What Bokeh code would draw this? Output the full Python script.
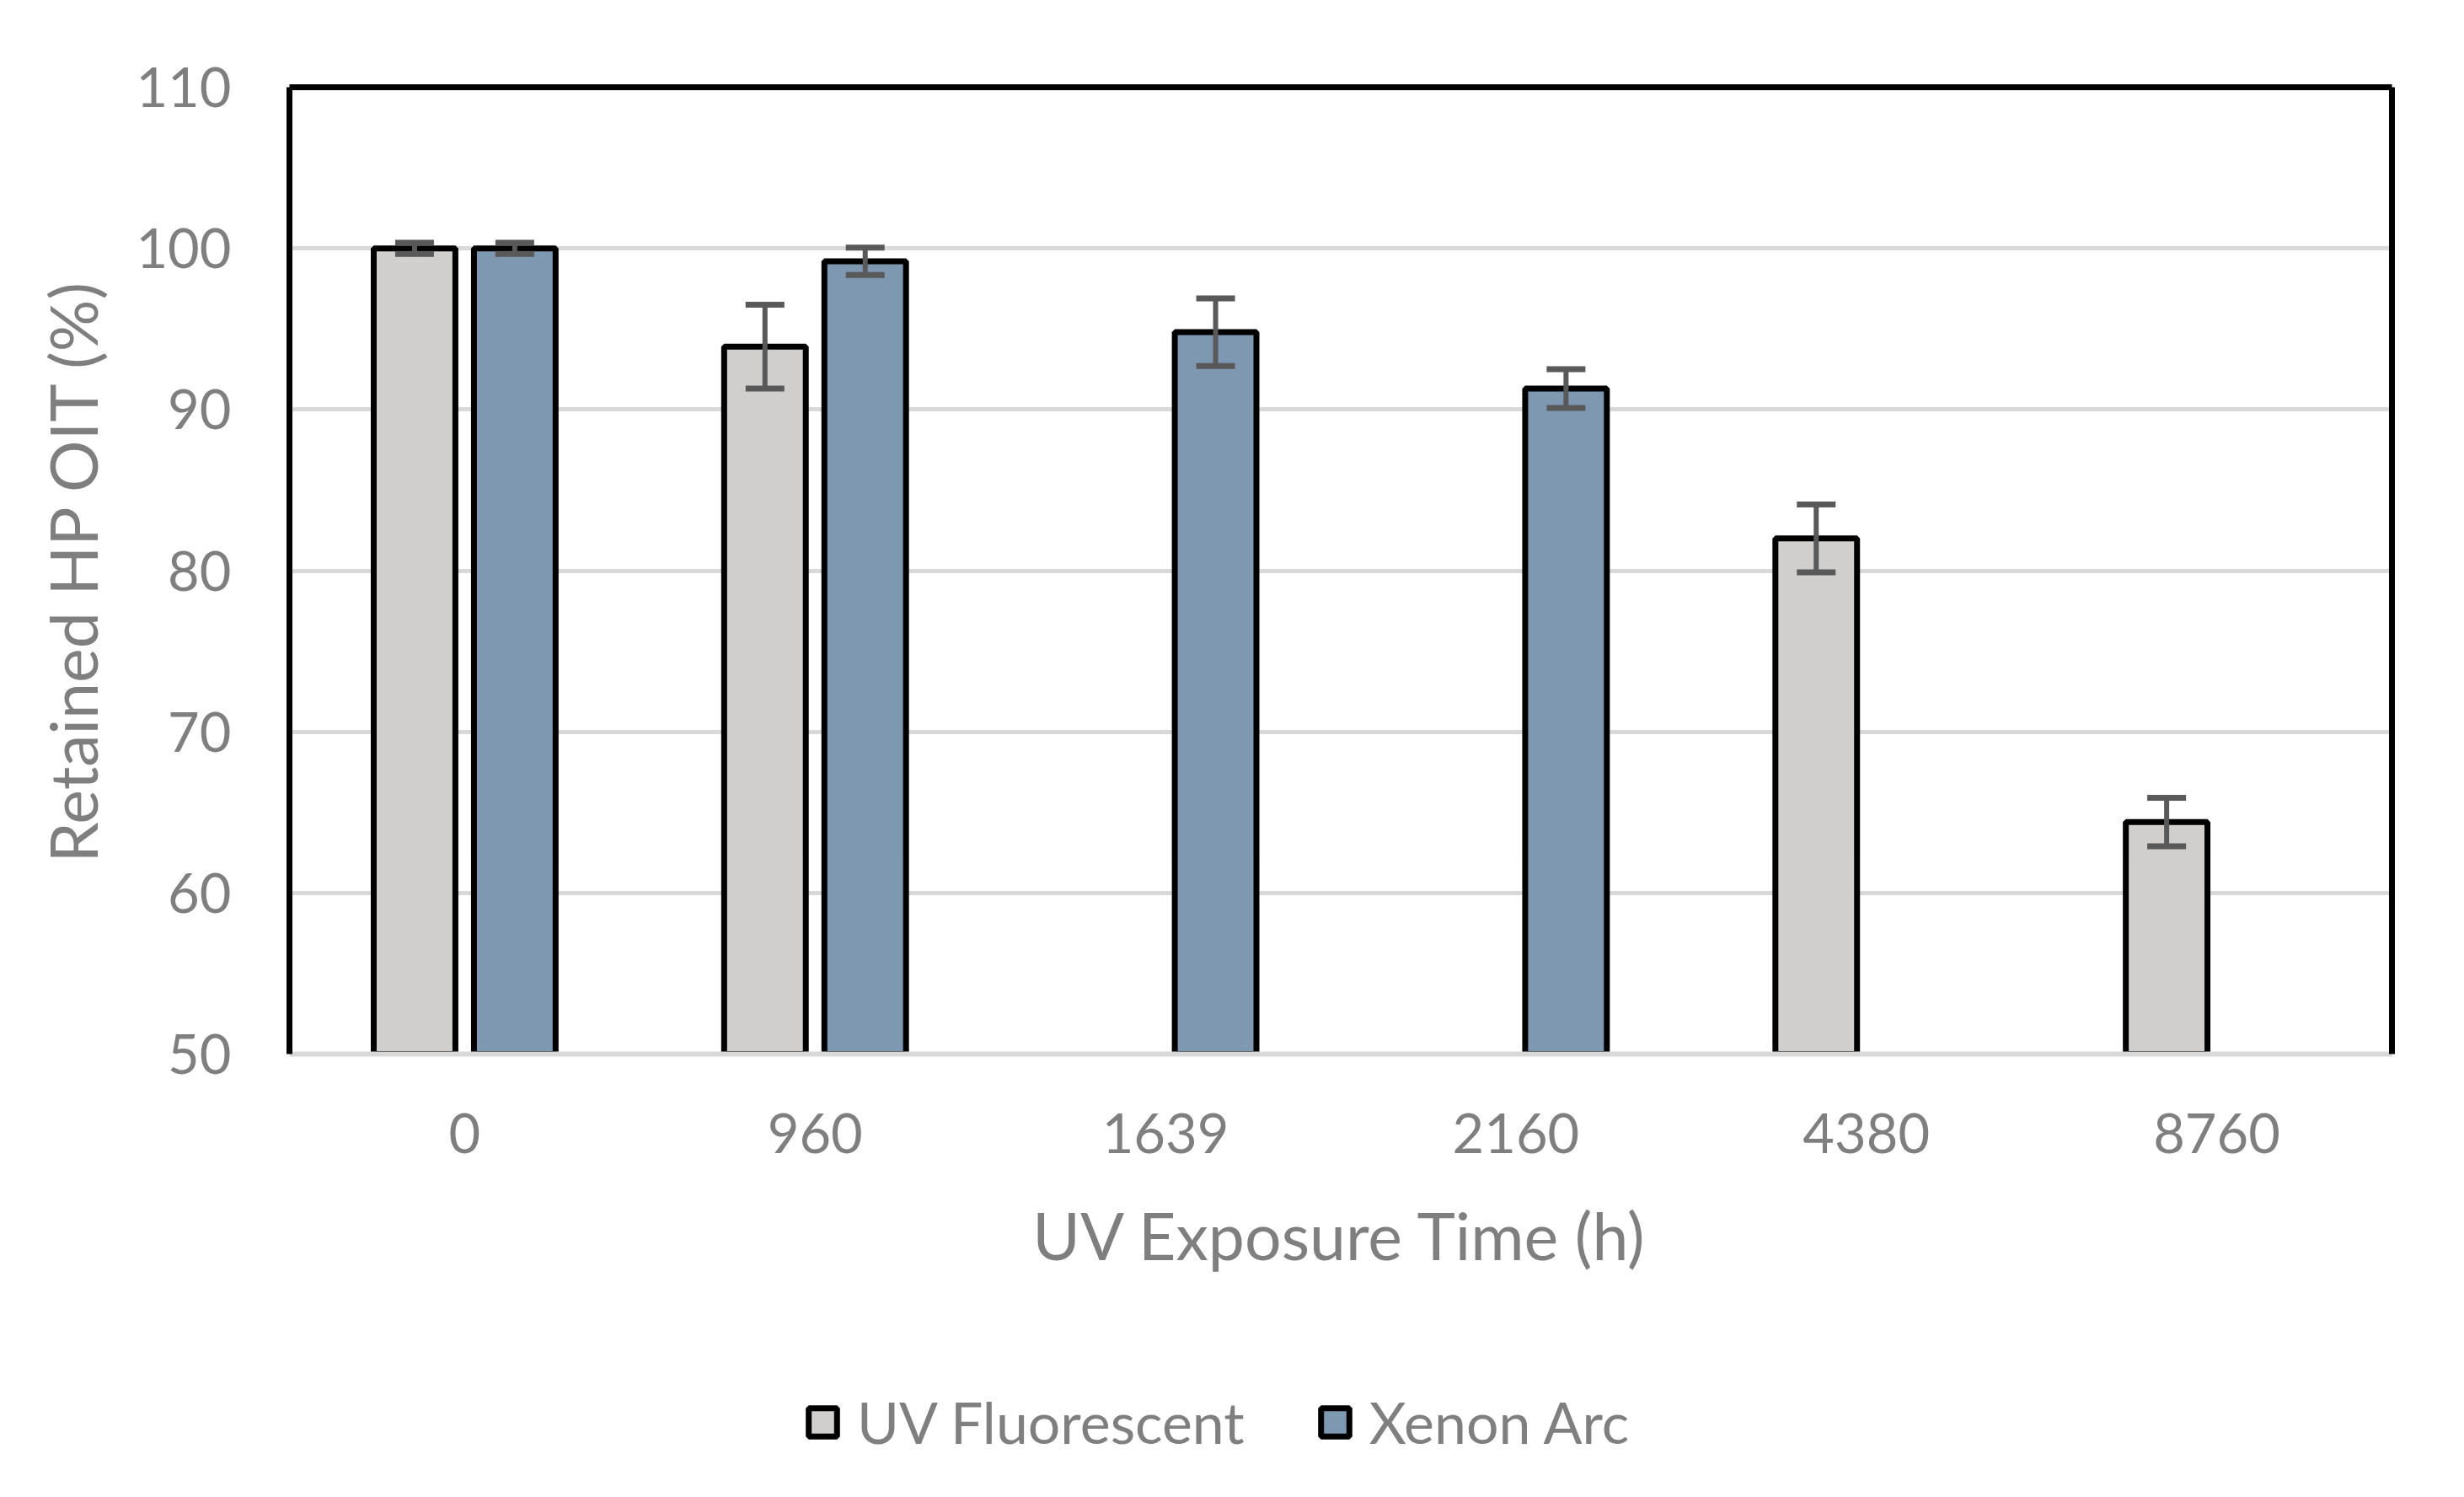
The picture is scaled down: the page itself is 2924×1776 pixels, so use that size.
from bokeh.plotting import figure
from bokeh.layouts import column
from bokeh.models import (ColumnDataSource, FactorRange, Range1d, Whisker, TeeHead,
                          Legend, LegendItem, CategoricalAxis, LinearAxis, FixedTicker)
from bokeh.transform import dodge
from bokeh.embed import file_html
from bokeh.resources import INLINE

# ---- data ----
times = ["0", "960", "1639", "2160", "4380", "8760"]
uv_fluorescent = [100.0, 93.9, None, None, 82.0, 64.4]
uv_fluorescent_err = [0.35, 2.6, None, None, 2.1, 1.5]
xenon_arc = [100.0, 99.2, 94.8, 91.3, None, None]
xenon_arc_err = [0.35, 0.85, 2.1, 1.2, None, None]
y_ticks = [50, 60, 70, 80, 90, 100, 110]
series_names = ["UV Fluorescent", "Xenon Arc"]

FONT = "Lato"
TXT = "#7f7f7f"
UV_COLOR = "#d0cfcd"
XE_COLOR = "#7f98b2"
ERR_COLOR = "#595959"
W = 2908
H_CHART = 1560
H_LEG = 200


def series_source(vals, errs):
    xs, tops, ups, los = [], [], [], []
    for t, v, e in zip(times, vals, errs):
        if v is None:
            continue
        xs.append(t)
        tops.append(v)
        ups.append(v + e)
        los.append(v - e)
    return ColumnDataSource(dict(x=xs, top=tops, upper=ups, lower=los))


uv_src = series_source(uv_fluorescent, uv_fluorescent_err)
xe_src = series_source(xenon_arc, xenon_arc_err)

chart = figure(x_range=FactorRange(*times), y_range=Range1d(50, 110),
               width=W, height=H_CHART, output_backend="svg", toolbar_location=None,
               min_border_left=343, min_border_right=70, min_border_top=103,
               min_border_bottom=H_CHART - 1250)
chart.outline_line_color = None
chart.background_fill_color = "white"

OFF = 0.143
BW = 0.233
bar_line = dict(bottom=50, line_color="black", line_width=7)

chart.vbar(x=dodge("x", -OFF, range=chart.x_range), top="top", width=BW, source=uv_src,
           fill_color=UV_COLOR, **bar_line)
chart.vbar(x=dodge("x", OFF, range=chart.x_range), top="top", width=BW, source=xe_src,
           fill_color=XE_COLOR, **bar_line)

for src, off in ((uv_src, -OFF), (xe_src, OFF)):
    w = Whisker(base=dodge("x", off, range=chart.x_range), upper="upper", lower="lower",
                source=src, line_color=ERR_COLOR, line_width=6, level="annotation",
                upper_head=TeeHead(size=46, line_color=ERR_COLOR, line_width=7),
                lower_head=TeeHead(size=46, line_color=ERR_COLOR, line_width=7))
    chart.add_layout(w)

# grid
chart.xgrid.grid_line_color = None
chart.ygrid.ticker = FixedTicker(ticks=y_ticks)
chart.ygrid.grid_line_color = "#d9d9d9"
chart.ygrid.grid_line_width = 5

# y axis
ya = chart.yaxis[0]
ya.ticker = FixedTicker(ticks=y_ticks)
ya.axis_line_color = "black"
ya.axis_line_width = 7
ya.major_tick_line_color = None
ya.minor_tick_line_color = None
ya.major_label_standoff = 63
ya.major_label_text_font = FONT
ya.major_label_text_font_size = "65px"
ya.major_label_text_color = TXT
ya.axis_label = "Retained HP OIT (%)"
ya.axis_label_text_font = FONT
ya.axis_label_text_font_size = "77px"
ya.axis_label_text_font_style = "normal"
ya.axis_label_text_color = TXT
ya.axis_label_standoff = 26

# x axis
xa = chart.xaxis[0]
xa.axis_line_color = "#d9d9d9"
xa.axis_line_width = 6
xa.major_tick_line_color = None
xa.major_label_standoff = 64
xa.major_label_text_font = FONT
xa.major_label_text_font_size = "65px"
xa.major_label_text_color = TXT
xa.axis_label = "UV Exposure Time (h)"
xa.axis_label_text_font = FONT
xa.axis_label_text_font_size = "77px"
xa.axis_label_text_font_style = "normal"
xa.axis_label_text_color = TXT
xa.axis_label_standoff = 48

# frame borders on top and right
right = LinearAxis(ticker=FixedTicker(ticks=[]), axis_line_color="black", axis_line_width=7,
                   major_label_text_font_size="0px", major_tick_line_color=None,
                   minor_tick_line_color=None)
chart.add_layout(right, "right")
top = CategoricalAxis(axis_line_color="black", axis_line_width=7,
                      major_label_text_font_size="0px", major_tick_line_color=None,
                      major_label_text_alpha=0)
chart.add_layout(top, "above")

# ---- legend strip: its bars use factors that are not in its own x range,
#      so they are never drawn; only the legend keys show ----
leg_fig = figure(width=W, height=H_LEG, output_backend="svg", toolbar_location=None,
                 x_range=FactorRange(*series_names), y_range=Range1d(0, 1),
                 x_axis_location=None, y_axis_location=None,
                 min_border_left=0, min_border_right=0, min_border_top=0,
                 min_border_bottom=0)
leg_fig.outline_line_color = None
leg_fig.grid.grid_line_color = None
k_uv = leg_fig.vbar(x="x", top="top", width=0, source=uv_src, fill_color=UV_COLOR, **bar_line)
k_xe = leg_fig.vbar(x="x", top="top", width=0, source=xe_src, fill_color=XE_COLOR, **bar_line)

legend = Legend(items=[LegendItem(label=series_names[0], renderers=[k_uv]),
                       LegendItem(label=series_names[1], renderers=[k_xe])],
                orientation="horizontal", location=(612, 33))
legend.label_text_font = FONT
legend.label_text_font_size = "68px"
legend.label_text_color = TXT
legend.glyph_width = 42
legend.glyph_height = 42
legend.label_standoff = 20
legend.spacing = 86
legend.padding = 0
legend.margin = 0
legend.border_line_color = None
legend.background_fill_alpha = 0
leg_fig.add_layout(legend, "center")

p = column(chart, leg_fig, spacing=0)
open("out.html", "w").write(file_html(p, INLINE))
